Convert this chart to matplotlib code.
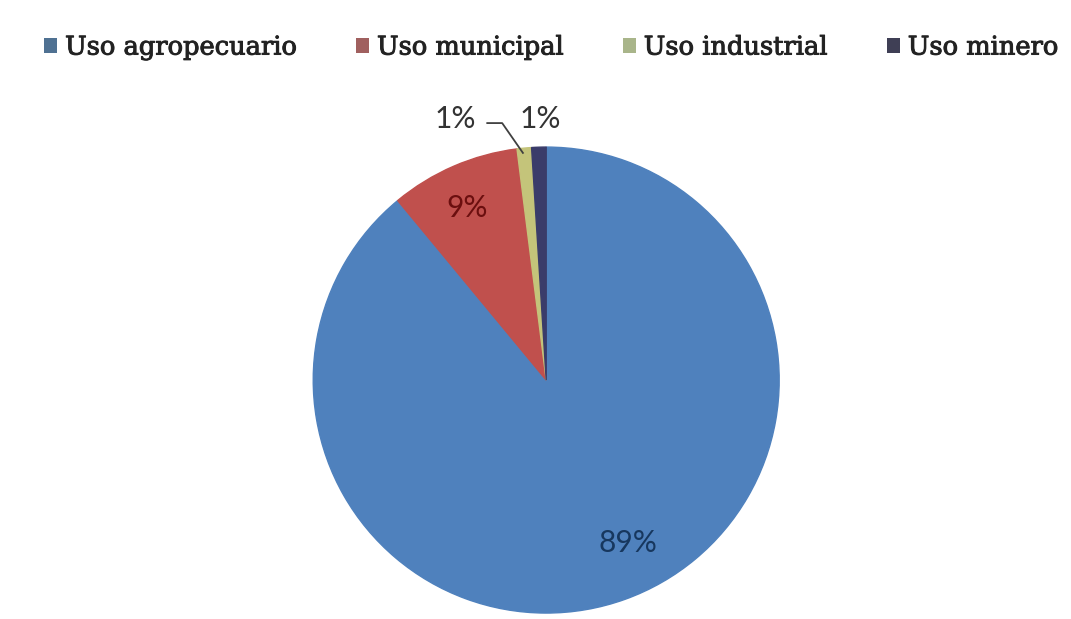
import matplotlib.pyplot as plt
import matplotlib.patheffects as pe
from matplotlib.patches import Patch

# Distribución del uso del agua por sector
sectores = ['Uso agropecuario', 'Uso municipal', 'Uso industrial', 'Uso minero']
porcentajes = [89, 9, 1, 1]
colores = ['#4F81BD', '#C0504D', '#C4C47A', '#3A3C6A']
colores_leyenda = ['#4F7192', '#A0605F', '#A9B58A', '#3F3F55']
colores_texto = ['#17375E', '#6B0F0F', '#333333', '#333333']

# posición de cada etiqueta (radio 1 = borde del círculo)
pos_etiquetas = [(0.35, -0.70), (-0.34, 0.74), (-0.39, 1.12), (-0.026, 1.12)]

fig = plt.figure(figsize=(10.71, 6.19), dpi=100)
ax = fig.add_axes([0.51 - 0.2176, 0.386 - 0.3764, 0.4352, 0.7528])

wedges, _ = ax.pie(porcentajes, colors=colores, startangle=90, counterclock=False,
                   radius=1.0, wedgeprops=dict(linewidth=1.0, edgecolor='#FFFFFF'))
for w, c in zip(wedges, colores):
    w.set_edgecolor(c)

for p, (x, y), c in zip(porcentajes, pos_etiquetas, colores_texto):
    ax.text(x, y, '%d%%' % p, ha='center', va='center', fontsize=21.5,
            family='Lato', color=c)

# línea guía hacia el sector industrial
ax.plot([-0.253, -0.189, -0.10], [1.103, 1.103, 0.975], color='#404040', lw=1.3,
        clip_on=False)

ax.set_xlim(-1, 1)
ax.set_ylim(-1, 1)
ax.set_aspect('equal')
ax.axis('off')

handles = [Patch(facecolor=c, edgecolor='none') for c in colores_leyenda]
leg = fig.legend(handles, sectores, loc='center', bbox_to_anchor=(0.515, 0.924), ncol=4,
                 frameon=False, handlelength=0.5, handleheight=0.5, handletextpad=0.3,
                 columnspacing=2.3, prop=dict(family='DejaVu Serif', size=18.5))
for t in leg.get_texts():
    t.set_color('#222222')
    t.set_path_effects([pe.withStroke(linewidth=0.7, foreground='#222222')])

fig.savefig('out.png', dpi=100)
